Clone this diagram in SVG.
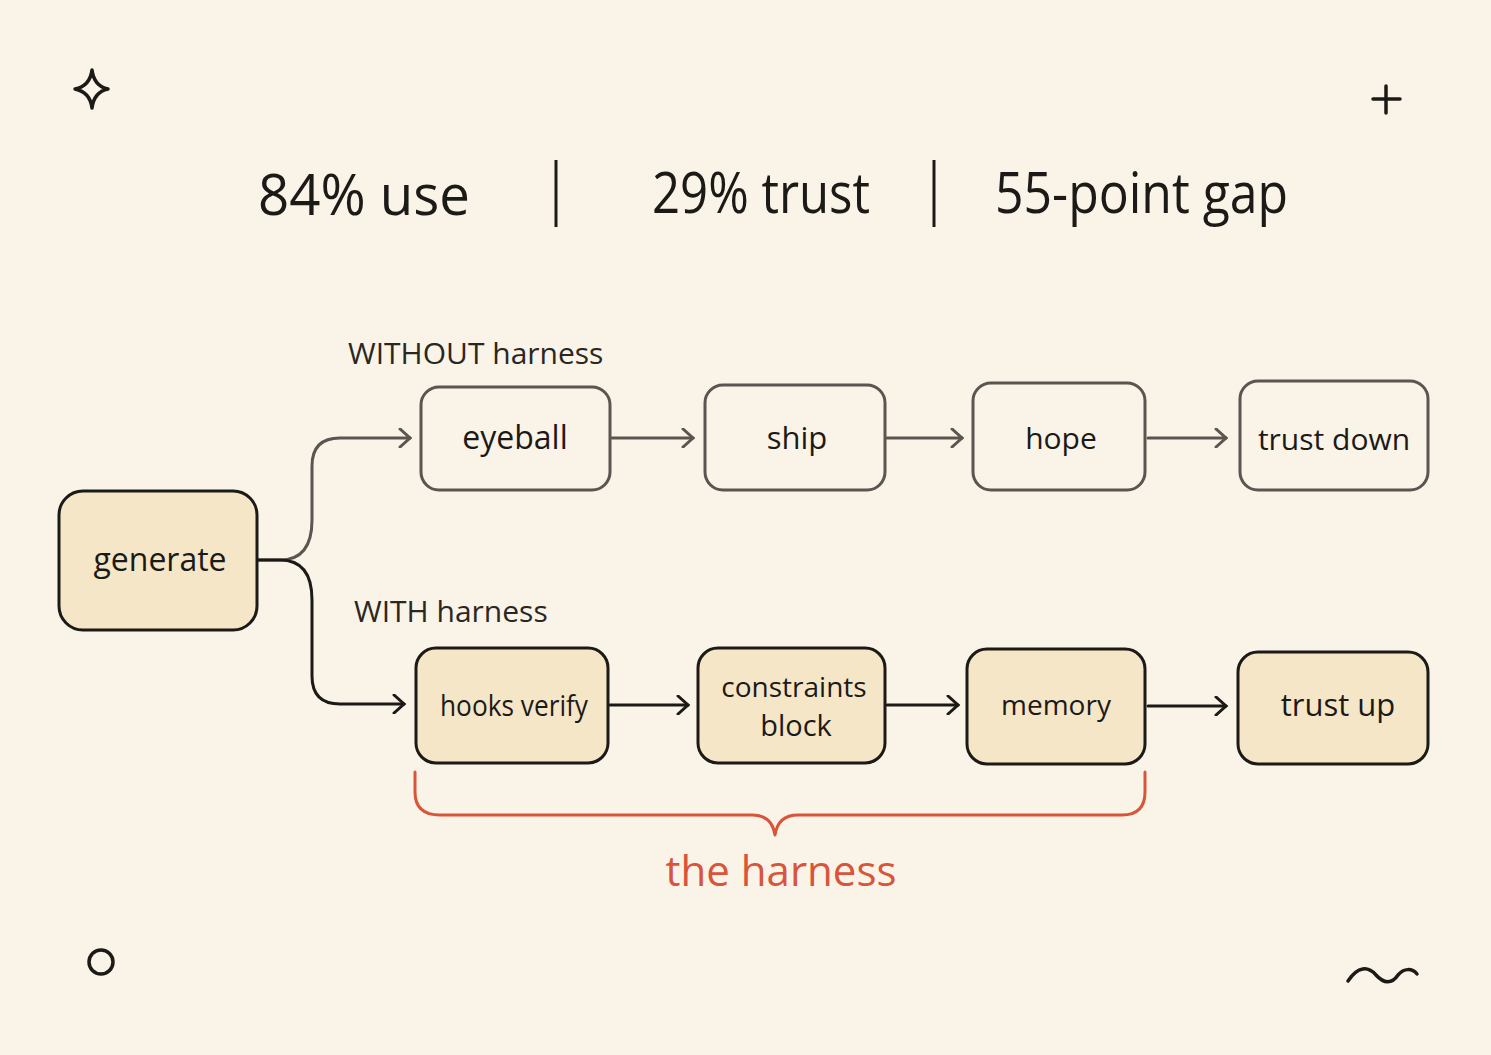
<svg xmlns="http://www.w3.org/2000/svg" width="1491" height="1055" viewBox="0 0 1491 1055">
<defs>
<style>
text{font-family:"Open Sans","Noto Sans",sans-serif;fill:#1c1a17}
.hd{font-size:56px;font-weight:500}
.lbl{font-size:30px;fill:#2a2723}
.box2{fill:#f5e6c8;stroke:#1c1a17;stroke-width:3}
.box1{fill:none;stroke:#5a5550;stroke-width:3}
.t{font-size:30px;text-anchor:middle}
.t2{font-size:29px;text-anchor:middle}
.c1{fill:none;stroke:#5a5550;stroke-width:3;stroke-linecap:round;stroke-linejoin:round}
.c2{fill:none;stroke:#1c1a17;stroke-width:3;stroke-linecap:round;stroke-linejoin:round}
.deco{fill:none;stroke:#1c1a17;stroke-width:3.5;stroke-linecap:round;stroke-linejoin:round}
</style>
<marker id="a1" viewBox="0 0 20 20" refX="16" refY="10" markerWidth="20" markerHeight="20" markerUnits="userSpaceOnUse" orient="auto"><path d="M6 1 L16 10 L6 19" fill="none" stroke="#5a5550" stroke-width="3" stroke-linecap="round"/></marker>
<marker id="a2" viewBox="0 0 20 20" refX="16" refY="10" markerWidth="20" markerHeight="20" markerUnits="userSpaceOnUse" orient="auto"><path d="M6 1 L16 10 L6 19" fill="none" stroke="#1c1a17" stroke-width="3" stroke-linecap="round"/></marker>
</defs>
<rect width="1491" height="1055" fill="#faf3e8"/>
<g id="deco">
<path class="deco" d="M92 70 Q94 86 108 89 Q94 92 92 108 Q90 92 75 89 Q90 86 92 70 Z"/>
<path class="deco" d="M1386 86 V113 M1373 99 H1400"/>
<circle class="deco" cx="101" cy="962" r="12"/>
<path class="deco" d="M1348 981 C1358 966 1368 966 1376 975 C1384 984 1392 984 1398 975 C1404 968 1412 968 1417 974"/>
</g>
<g id="headline">
<text class="hd" x="258" y="215" textLength="212" lengthAdjust="spacingAndGlyphs">84% use</text>
<line x1="556" y1="160" x2="556" y2="227" stroke="#1c1a17" stroke-width="3"/>
<text class="hd" x="652" y="213" textLength="218" lengthAdjust="spacingAndGlyphs">29% trust</text>
<line x1="934" y1="160" x2="934" y2="227" stroke="#1c1a17" stroke-width="3"/>
<text class="hd" x="995" y="213" textLength="293" lengthAdjust="spacingAndGlyphs">55-point gap</text>
</g>
<text class="lbl" x="348" y="364">WITHOUT harness</text>
<text class="lbl" x="354" y="622">WITH harness</text>
<g id="connectors">
<path class="c1" d="M257 560 H280 Q312 560 312 520 V466 Q312 438 340 438 H410" marker-end="url(#a1)"/>
<path class="c2" d="M257 560 H280 Q312 560 312 600 V676 Q312 704 340 704 H404" marker-end="url(#a2)"/>
<path class="c1" d="M612 438 H693" marker-end="url(#a1)"/>
<path class="c1" d="M887 438 H962" marker-end="url(#a1)"/>
<path class="c1" d="M1148 438 H1226" marker-end="url(#a1)"/>
<path class="c2" d="M610 705 H688" marker-end="url(#a2)"/>
<path class="c2" d="M887 705 H958" marker-end="url(#a2)"/>
<path class="c2" d="M1148 706 H1226" marker-end="url(#a2)"/>
</g>
<g id="generate"><rect class="box2" x="59" y="491" width="198" height="139" rx="24"/><text x="160" y="571" style="font-size:32px;text-anchor:middle">generate</text></g>
<g id="eyeball"><rect class="box1" x="421" y="387" width="189" height="103" rx="18"/><text class="t" x="515" y="449" style="font-size:32px">eyeball</text></g>
<g id="ship"><rect class="box1" x="705" y="385" width="180" height="105" rx="18"/><text class="t" x="797" y="449" style="font-size:31px">ship</text></g>
<g id="hope"><rect class="box1" x="973" y="383" width="172" height="107" rx="18"/><text class="t" x="1061" y="449">hope</text></g>
<g id="trustdown"><rect class="box1" x="1240" y="381" width="188" height="109" rx="18"/><text class="t" x="1334" y="450">trust down</text></g>
<g id="hooks"><rect class="box2" x="416" y="648" width="192" height="115" rx="20"/><text class="t2" x="514" y="716" textLength="148" lengthAdjust="spacingAndGlyphs">hooks verify</text></g>
<g id="constraints"><rect class="box2" x="698" y="648" width="187" height="115" rx="20"/><text class="t2" x="794" y="697" style="font-size:28px">constraints</text><text class="t2" x="796" y="736">block</text></g>
<g id="memory"><rect class="box2" x="967" y="649" width="178" height="115" rx="20"/><text class="t2" x="1056" y="715" style="font-size:28px">memory</text></g>
<g id="trustup"><rect class="box2" x="1238" y="652" width="190" height="112" rx="20"/><text class="t2" x="1338" y="716" style="font-size:31px">trust up</text></g>
<g id="brace">
<path d="M415 772 V792 Q415 815 440 815 H752 Q772 815 775 835 Q778 815 798 815 H1122 Q1145 815 1145 792 V772" fill="none" stroke="#d9553a" stroke-width="3" stroke-linecap="round" stroke-linejoin="round"/>
<text x="781" y="886" style="font-size:42px;fill:#d9553a;text-anchor:middle;font-weight:500">the harness</text>
</g>
</svg>
